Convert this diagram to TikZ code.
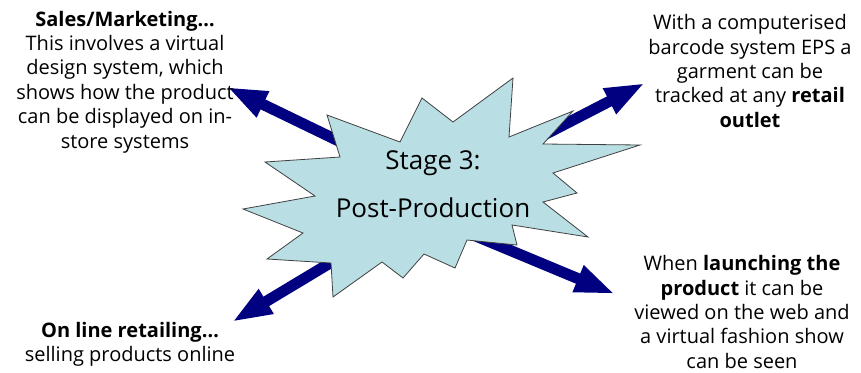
\documentclass[tikz,border=0pt]{standalone}
\usepackage{fontspec}
\setmainfont{Open Sans}
\usetikzlibrary{arrows.meta}
\definecolor{burst}{RGB}{185,223,228}
\definecolor{arrowblue}{RGB}{0,0,128}
\tikzset{blurb/.style={
  align=center,inner sep=0pt,
  font=\fontsize{20}{24.4}\selectfont}}
\tikzset{bigarrow/.style={
  arrowblue,line width=11pt,
  -{Triangle[length=40pt,width=26pt]}}}
\tikzset{burstline/.style={
  fill=burst,draw=black!75,line width=0.8pt,line join=miter}}

\begin{document}
\begin{tikzpicture}[x={(1pt,0pt)},y={(0pt,-1pt)}]
  \useasboundingbox (0,0) rectangle (861,372);
  \coordinate (tailsales) at (380,161);
  \coordinate (tipsales) at (227,87);
  \coordinate (tailbar) at (511,152);
  \coordinate (tipbar) at (645,83);
  \coordinate (taillaunch) at (430,217);
  \coordinate (tiplaunch) at (615,294);
  \coordinate (tailonline) at (360,245);
  \coordinate (tiponline) at (232,322);
  \draw[bigarrow] (tailsales) -- (tipsales);
  \draw[bigarrow] (tailbar) -- (tipbar);
  \draw[bigarrow] (taillaunch) -- (tiplaunch);
  \draw[bigarrow] (tailonline) -- (tiponline);
  \draw[burstline] (513,78) -- (509,137) -- (573,111) -- (543,144) -- (640,145)
    -- (553,173) -- (577,193) -- (543,202) -- (588,237) -- (512,225) -- (517,245)
    -- (467,240) -- (455,268) -- (424,254) -- (403,278) -- (382,262) -- (333,297)
    -- (331,263) -- (267,259) -- (303,233) -- (243,209) -- (315,196) -- (265,162)
    -- (340,157) -- (327,115) -- (400,142) -- (422,98) -- (453,122) -- cycle;
  \node[align=center,inner sep=0pt,font=\fontsize{26}{48}\selectfont] (stage) at (433,184)
    {Stage 3:\\Post-Production};
  \node[blurb] (sales) at (125,82)
    {\textbf{Sales/Marketing…}\\This involves a virtual\\design system, which\\shows how the product\\can be displayed on in-\\store systems};
  \node[blurb] (barcode) at (750,71)
    {With a computerised\\barcode system EPS a\\garment can be\\tracked at any \textbf{retail}\\\textbf{outlet}};
  \node[blurb] (launch) at (742,312)
    {When \textbf{launching the}\\\textbf{product} it can be\\viewed on the web and\\a virtual fashion show\\can be seen};
  \node[blurb] (online) at (130,344)
    {\textbf{On line retailing…}\\selling products online};
\end{tikzpicture}
\end{document}
